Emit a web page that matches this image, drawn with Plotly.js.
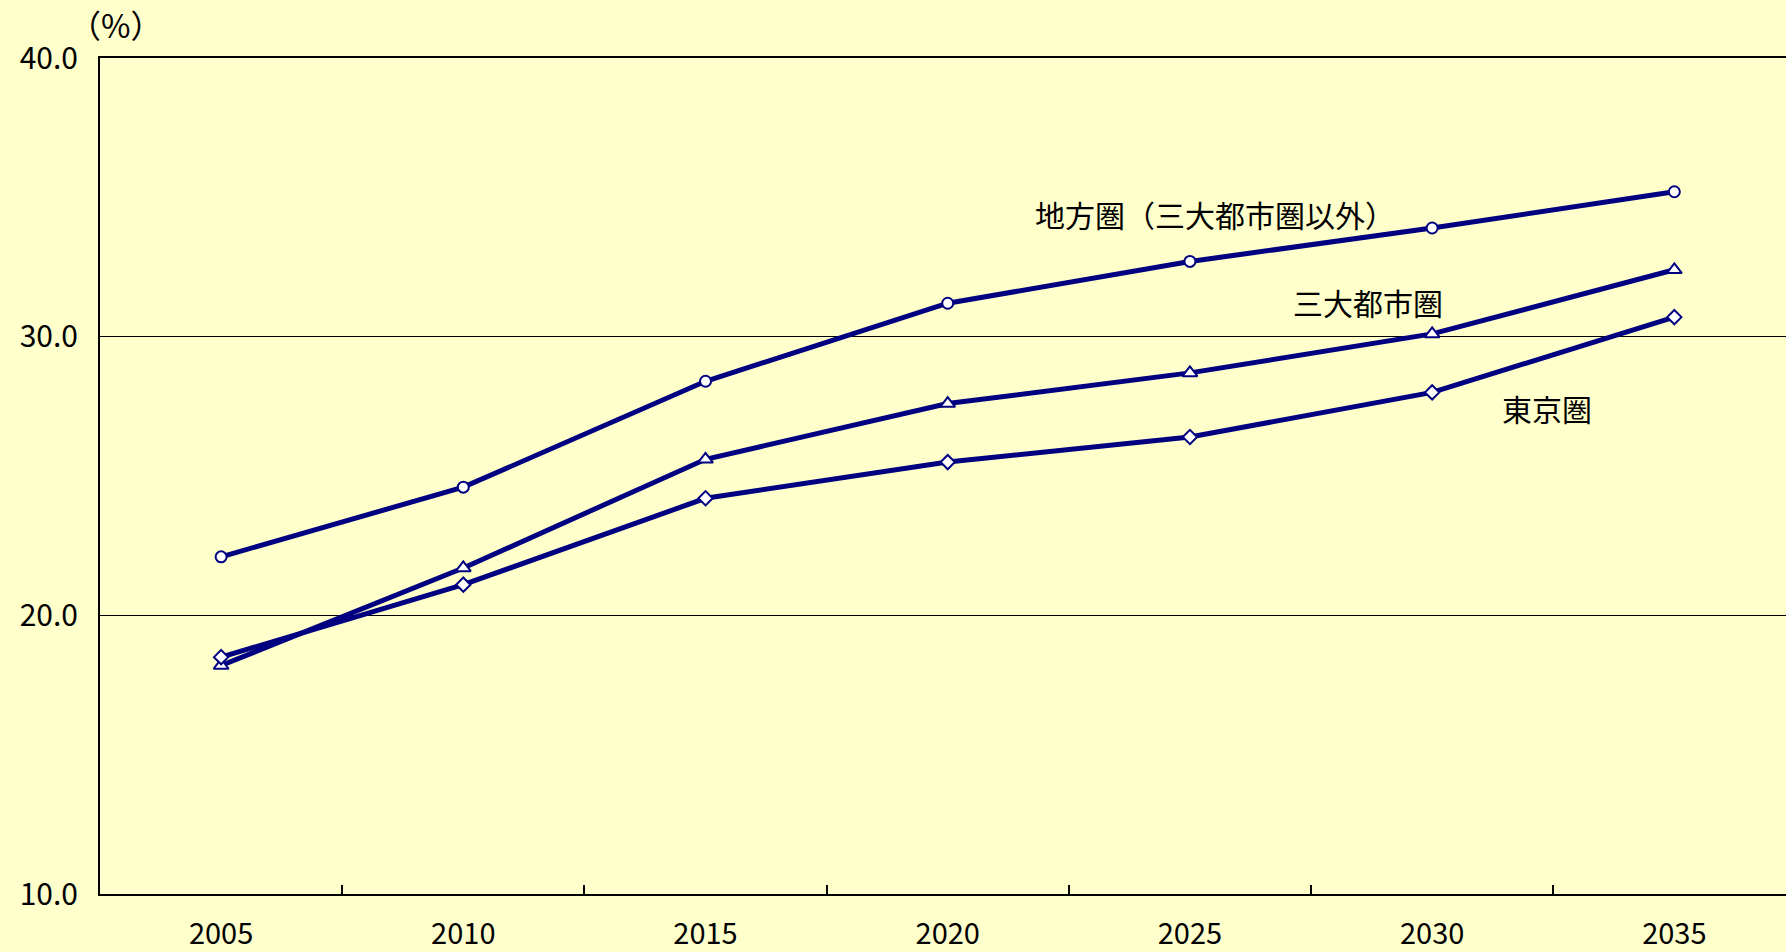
<!DOCTYPE html>
<html>
<head>
<meta charset="utf-8">
<script src="https://cdn.plot.ly/plotly-3.0.1.min.js"></script>
<style>
  html, body { margin: 0; padding: 0; background: #ffffcc; overflow: hidden; }
  #grafico { width: 1786px; height: 952px; }
</style>
</head>
<body>
<div id="grafico"></div>
<script>
// 高齢化率の推移（%）
const years = ['2005', '2010', '2015', '2020', '2025', '2030', '2035'];
const chihou = [22.1, 24.6, 28.4, 31.2, 32.7, 33.9, 35.2];   // 地方圏（三大都市圏以外）
const sandai = [18.2, 21.7, 25.6, 27.6, 28.7, 30.1, 32.4];   // 三大都市圏
const tokyo = [18.5, 21.1, 24.2, 25.5, 26.4, 28.0, 30.7];    // 東京圏

const navy = '#000080';
const fuente = '"Noto Sans CJK JP", "Noto Sans", sans-serif';

function serie(y, simbolo, tam) {
    return {
        x: years,
        y: y,
        mode: 'lines+markers',
        type: 'scatter',
        line: { color: navy, width: 5 },
        marker: { symbol: simbolo, size: tam, color: '#ffffff', line: { color: navy, width: 2 } },
        hoverinfo: 'skip'
    };
}

const data = [
    serie(chihou, 'circle', 11),
    serie(sandai, 'triangle-up', 13),
    serie(tokyo, 'diamond', 11)
];

const layout = {
    width: 1786,
    height: 952,
    margin: { l: 100, r: 0, t: 58, b: 58 },
    paper_bgcolor: '#ffffcc',
    plot_bgcolor: '#ffffcc',
    showlegend: false,
    font: { family: fuente, color: '#000000', size: 30 },
    xaxis: {
        type: 'category',
        range: [-0.5, 6.461],
        showline: true,
        linecolor: '#000000',
        linewidth: 2,
        mirror: true,
        showgrid: false,
        ticks: 'inside',
        tickson: 'boundaries',
        ticklen: 9,
        tickwidth: 2,
        tickcolor: '#000000',
        ticklabelstandoff: 13,
        tickfont: { family: fuente, size: 29 }
    },
    yaxis: {
        range: [10, 40],
        tickvals: [10, 20, 30, 40],
        ticktext: ['10.0', '20.0', '30.0', '40.0'],
        showline: true,
        linecolor: '#000000',
        linewidth: 2,
        showgrid: true,
        gridcolor: '#000000',
        gridwidth: 1.6,
        zeroline: false,
        ticks: '',
        ticklabelstandoff: 14,
        tickfont: { family: fuente, size: 30 }
    },
    annotations: [
        { x: 4.104, y: 34.42, text: '地方圏（三大都市圏以外）', showarrow: false, font: { size: 30 } },
        { x: 4.735, y: 31.26, text: '三大都市圏', showarrow: false, font: { size: 30 } },
        { x: 5.474, y: 27.45, text: '東京圏', showarrow: false, font: { size: 30 } },
        { xref: 'paper', yref: 'paper', x: 0.009, y: 1.041, xanchor: 'center', yanchor: 'middle',
          text: '（%）', showarrow: false, font: { size: 32 } }
    ]
};

Plotly.newPlot('grafico', data, layout, { displayModeBar: false, staticPlot: true });
</script>
</body>
</html>
